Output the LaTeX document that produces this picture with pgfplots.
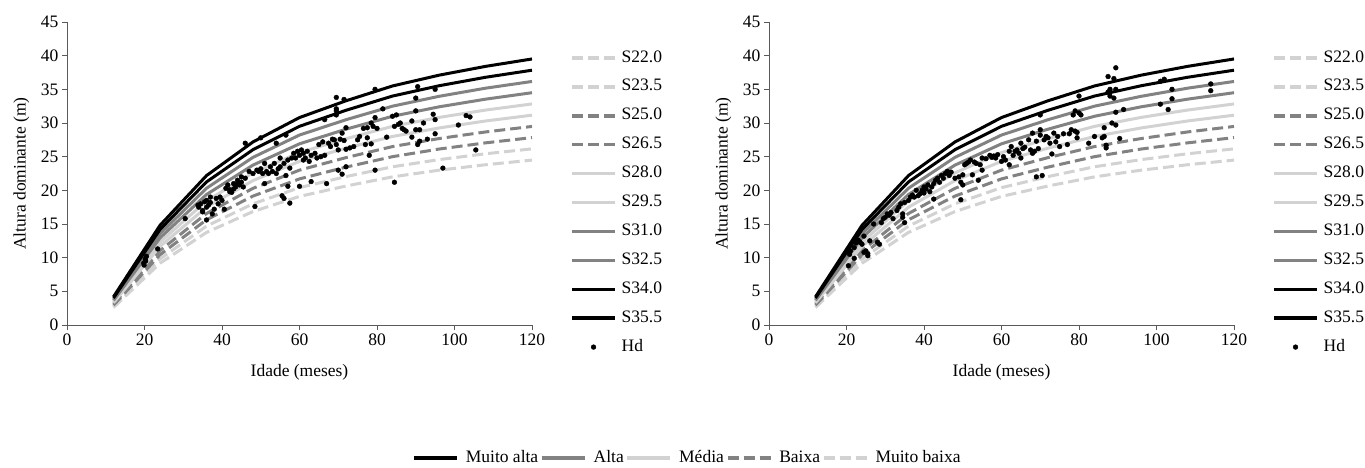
\documentclass[border=0pt]{standalone}
\usepackage{pgfplots}
\usepackage{pgfplotstable}
\pgfplotsset{compat=1.18}
\usepackage{fontspec}
\setmainfont{Liberation Serif}
\newcommand\fs{\fontsize{17.5}{21}\selectfont}

\definecolor{lgray}{HTML}{D2D2D2}
\definecolor{mgray}{HTML}{828282}
\definecolor{axgray}{HTML}{5A5A5A}

% site index curves (reference age 84 months)
\pgfplotstableread{
age S220 S235 S250 S265 S280 S295 S310 S325 S340 S355
12  2.60  2.77  2.95  3.13  3.30  3.48  3.66  3.84  4.01  4.19
24  9.17  9.80 10.43 11.05 11.68 12.30 12.93 13.55 14.18 14.80
36 13.75 14.69 15.63 16.56 17.50 18.44 19.38 20.31 21.25 22.19
48 16.85 18.00 19.15 20.30 21.45 22.60 23.75 24.90 26.04 27.19
60 19.10 20.40 21.70 23.00 24.30 25.61 26.91 28.21 29.51 30.81
72 20.64 22.04 23.45 24.86 26.26 27.67 29.08 30.49 31.89 33.30
84 22.00 23.50 25.00 26.50 28.00 29.50 31.00 32.50 34.00 35.50
96 22.99 24.56 26.13 27.69 29.26 30.83 32.40 33.96 35.53 37.10
108 23.80 25.43 27.05 28.67 30.30 31.92 33.54 35.17 36.79 38.41
120 24.49 26.16 27.83 29.49 31.16 32.83 34.50 36.17 37.84 39.51
}\curves

\pgfplotstableread{
x y
19.8 9.2
20.2 9.8
20.5 10.2
19.9 8.9
20.3 9.5
23.4 11.3
30.5 15.8
33.8 17.8
34.0 17.5
34.5 18.0
35.0 17.0
35.0 16.8
35.5 18.3
36.0 15.6
36.0 18.5
36.0 17.5
36.5 17.8
37.0 18.2
37.0 19.0
37.5 16.5
38.0 17.2
38.5 18.8
39.0 18.0
39.5 19.0
40.0 18.5
40.6 17.2
41.0 20.3
41.5 20.8
42.0 20.1
42.0 19.8
42.5 19.7
43.0 21.0
43.0 20.2
43.5 20.5
44.0 21.5
44.0 21.0
44.5 20.8
45.0 22.0
45.0 21.2
45.5 20.5
46.0 21.8
46.0 27.0
47.0 22.8
48.0 22.5
48.5 17.6
49.0 23.0
49.5 22.8
50.0 27.8
50.0 23.2
50.5 22.5
51.0 24.0
51.0 21.0
51.5 22.8
52.0 22.5
52.5 23.5
53.0 22.8
53.5 24.0
54.0 27.0
54.0 22.5
54.5 23.2
55.0 24.8
55.0 23.5
55.5 19.2
56.0 18.8
56.0 24.0
56.5 22.2
56.5 28.2
57.0 24.5
57.0 20.6
57.5 18.1
57.5 23.3
58.0 24.8
58.5 25.5
59.0 24.8
59.5 25.8
60.0 25.2
60.0 20.6
60.5 26.0
61.0 24.5
61.0 25.5
61.5 24.8
62.0 25.8
62.5 24.3
63.0 25.2
63.0 21.3
64.0 25.5
64.5 24.8
65.0 26.8
65.5 25.0
66.0 27.2
66.5 25.2
66.5 30.5
67.0 21.0
67.5 27.0
68.0 26.5
68.5 27.6
69.0 27.5
69.5 26.8
69.5 31.2
69.5 32.1
69.5 33.8
69.5 31.8
70.0 26.0
70.0 23.0
70.5 27.6
71.0 28.5
71.0 22.4
71.5 27.4
71.5 33.5
72.0 29.3
72.0 26.1
72.0 23.5
73.0 26.3
74.0 26.5
75.0 27.5
75.5 28.0
76.5 29.2
77.0 26.8
77.5 27.8
77.5 29.3
78.0 25.2
78.5 30.0
78.5 26.9
79.0 29.5
79.5 30.8
79.5 35.0
79.5 23.0
80.0 29.2
81.5 32.1
82.5 27.9
84.0 31.0
84.5 29.5
84.5 21.2
85.0 31.2
85.5 29.8
86.0 30.0
86.5 29.2
87.0 29.0
87.5 28.8
89.0 27.9
89.0 30.3
90.0 33.7
90.0 31.8
90.0 29.0
90.5 35.4
90.5 26.8
91.0 27.3
91.0 29.0
92.0 30.0
93.0 27.6
94.5 31.3
95.0 30.5
95.0 35.0
95.0 28.4
97.0 23.3
101.0 29.7
103.0 31.1
104.0 30.9
105.5 26.0
}\hdleft

\pgfplotstableread{
x y
20.5 8.8
20.8 10.5
21.0 11.0
22.0 9.9
22.0 11.5
22.5 12.2
23.0 12.6
23.5 12.3
24.0 12.0
24.5 13.2
24.5 10.8
25.0 11.0
25.5 10.3
25.5 10.6
26.0 12.5
27.0 15.0
28.0 12.3
28.5 12.0
29.0 15.2
29.5 15.8
30.0 16.0
30.5 16.5
31.0 16.3
31.5 16.7
32.0 15.8
33.0 17.0
33.5 17.5
34.0 18.0
34.5 16.5
34.5 16.0
35.0 18.2
35.0 15.2
36.0 18.5
36.5 19.0
37.0 19.3
37.5 19.0
38.0 20.0
38.5 19.2
39.0 19.5
39.5 20.0
40.0 20.5
40.0 19.6
40.5 20.2
41.0 20.8
41.5 19.8
42.0 20.5
42.5 21.0
42.5 18.7
43.0 21.5
43.5 21.8
44.0 21.2
44.5 22.2
45.0 21.8
45.5 22.5
46.0 22.8
46.5 22.2
47.0 22.7
48.0 21.8
49.0 22.0
49.5 21.2
49.5 18.6
50.0 22.3
50.0 20.8
50.5 23.8
51.0 24.0
51.5 24.2
52.0 24.5
52.5 22.3
53.0 24.2
53.5 24.0
54.0 21.5
54.5 23.8
55.0 23.0
55.0 24.8
56.0 24.7
57.0 25.2
57.5 24.9
58.0 25.1
58.5 24.8
59.0 25.3
60.0 24.3
60.5 25.0
61.0 24.5
62.0 25.8
62.0 23.8
62.5 26.5
63.0 25.2
63.5 25.8
64.0 26.0
64.5 25.5
65.0 27.0
65.0 24.8
65.5 26.2
66.0 26.4
67.0 27.5
67.5 26.0
68.0 28.5
68.0 25.5
68.5 25.8
69.0 27.3
69.0 22.0
69.5 26.2
70.0 28.2
70.0 29.0
70.0 31.2
70.5 22.2
71.0 27.5
71.5 28.0
72.0 27.8
72.5 27.0
73.0 25.4
73.5 28.5
74.0 27.2
74.5 28.0
75.0 26.5
76.0 28.4
77.0 26.8
77.5 28.4
78.0 29.0
78.5 31.2
79.0 28.8
79.0 31.8
79.5 27.8
79.5 28.6
80.0 34.0
80.0 31.5
80.5 31.2
82.5 27.0
84.0 28.0
86.0 27.8
86.5 28.0
86.5 29.3
87.0 26.7
87.0 26.3
87.5 34.6
87.5 36.9
88.0 35.0
88.0 34.0
88.5 30.0
89.0 33.7
89.0 36.6
89.5 29.7
89.5 31.6
89.5 35.0
89.5 38.2
90.5 27.7
91.5 32.0
101.0 32.8
101.0 36.2
102.0 36.5
103.0 32.0
104.0 35.0
104.0 33.6
114.0 35.8
114.0 34.8
}\hdright

\tikzset{
  ldash/.style={draw=lgray, line width=3pt, dash pattern=on 11pt off 5pt},
  mdash/.style={draw=mgray, line width=3pt, dash pattern=on 11pt off 5pt},
  lsolid/.style={draw=lgray, line width=3pt},
  msolid/.style={draw=mgray, line width=3pt},
  bsolid/.style={draw=black, line width=3pt},
}

\pgfplotsset{
  sampleimg/.style={
    legend image code/.code={\draw[mark repeat=2, mark phase=2, ##1, line width=3.4pt,
      every mark/.append style={line width=0.4pt}]
      plot coordinates {(0pt,0pt) (21.5pt,0pt) (43pt,0pt)};}},
  panel/.style={
    scale only axis, width=465pt, height=303pt,
    xmin=0, xmax=120, ymin=0, ymax=45,
    xtick={0,20,...,120}, ytick={0,5,...,45},
    axis lines=left, axis line style={axgray, line width=1pt, -},
    tick style={axgray, line width=1pt}, tick align=outside,
    major tick length=5pt,
    tick label style={font=\fs}, /pgf/number format/assume math mode=true,
    xlabel={Idade (meses)}, ylabel={Altura dominante (m)},
    every axis y label/.style={at={(axis description cs:-0.098,0.5)}, rotate=90, anchor=center, font=\fs},
    every axis x label/.style={at={(axis description cs:0.5,-0.155)}, anchor=center, font=\fs},
    legend style={at={(1.082,0.404)}, anchor=west, draw=none, fill=none,
      inner sep=0pt, font=\fs, row sep=12.9pt,
      nodes={inner sep=0pt, text height=12pt, text depth=4pt},
      /tikz/every odd column/.append style={column sep=5pt}},
    legend cell align=left,
    sampleimg,
  },
}

\begin{document}
\begin{tikzpicture}
\useasboundingbox (0,0) rectangle (1365pt,467pt);

\begin{axis}[panel, at={(67pt,142pt)}, anchor=south west]
  \addplot[ldash] table[x=age, y=S220] {\curves}; \addlegendentry{S22.0}
  \addplot[ldash] table[x=age, y=S235] {\curves}; \addlegendentry{S23.5}
  \addplot[mdash] table[x=age, y=S250] {\curves}; \addlegendentry{S25.0}
  \addplot[mdash] table[x=age, y=S265] {\curves}; \addlegendentry{S26.5}
  \addplot[lsolid] table[x=age, y=S280] {\curves}; \addlegendentry{S28.0}
  \addplot[lsolid] table[x=age, y=S295] {\curves}; \addlegendentry{S29.5}
  \addplot[msolid] table[x=age, y=S310] {\curves}; \addlegendentry{S31.0}
  \addplot[msolid] table[x=age, y=S325] {\curves}; \addlegendentry{S32.5}
  \addplot[bsolid] table[x=age, y=S340] {\curves}; \addlegendentry{S34.0}
  \addplot[bsolid] table[x=age, y=S355] {\curves}; \addlegendentry{S35.5}
  \addplot[only marks, mark=*, mark size=2.4pt, black] table[x=x, y=y] {\hdleft};
  \addlegendentry{Hd}
\end{axis}

\begin{axis}[panel, at={(769pt,142pt)}, anchor=south west]
  \addplot[ldash] table[x=age, y=S220] {\curves}; \addlegendentry{S22.0}
  \addplot[ldash] table[x=age, y=S235] {\curves}; \addlegendentry{S23.5}
  \addplot[mdash] table[x=age, y=S250] {\curves}; \addlegendentry{S25.0}
  \addplot[mdash] table[x=age, y=S265] {\curves}; \addlegendentry{S26.5}
  \addplot[lsolid] table[x=age, y=S280] {\curves}; \addlegendentry{S28.0}
  \addplot[lsolid] table[x=age, y=S295] {\curves}; \addlegendentry{S29.5}
  \addplot[msolid] table[x=age, y=S310] {\curves}; \addlegendentry{S31.0}
  \addplot[msolid] table[x=age, y=S325] {\curves}; \addlegendentry{S32.5}
  \addplot[bsolid] table[x=age, y=S340] {\curves}; \addlegendentry{S34.0}
  \addplot[bsolid] table[x=age, y=S355] {\curves}; \addlegendentry{S35.5}
  \addplot[only marks, mark=*, mark size=2.4pt, black] table[x=x, y=y] {\hdright};
  \addlegendentry{Hd}
\end{axis}

% shared class legend
\begin{axis}[hide axis, scale only axis, width=10pt, height=10pt,
  xmin=0, xmax=1, ymin=0, ymax=1,
  at={(686.5pt,9pt)}, anchor=center,
  legend columns=-1,
  legend style={at={(0.5,0.5)}, anchor=center, draw=none, fill=none,
    inner sep=0pt, font=\fs,
    nodes={inner sep=0pt, text height=12pt, text depth=4pt},
    /tikz/every odd column/.append style={column sep=7pt},
    /tikz/every even column/.append style={column sep=2pt}},
  sampleimg]
  \addlegendimage{bsolid} \addlegendentry{Muito alta}
  \addlegendimage{msolid} \addlegendentry{Alta}
  \addlegendimage{lsolid} \addlegendentry{Média}
  \addlegendimage{mdash} \addlegendentry{Baixa}
  \addlegendimage{ldash} \addlegendentry{Muito baixa}
\end{axis}
\end{tikzpicture}
\end{document}
